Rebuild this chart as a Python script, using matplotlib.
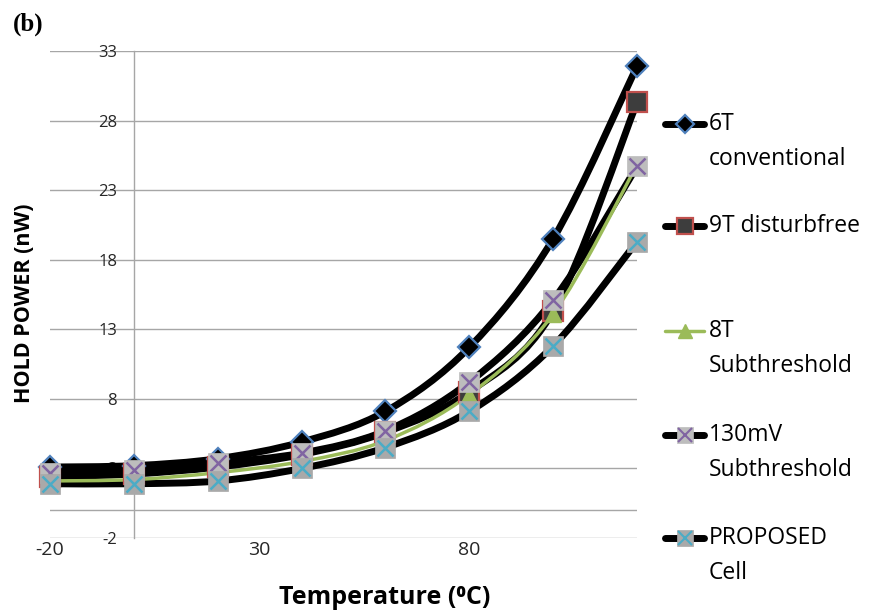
import matplotlib
matplotlib.use("Agg")
import matplotlib.pyplot as plt
from matplotlib.path import Path
from matplotlib.patches import PathPatch
from matplotlib.lines import Line2D

plt.rcParams["font.family"] = ["Open Sans", "DejaVu Sans"]
plt.rcParams["axes.unicode_minus"] = False

# ---------------------------------------------------------------------------
# Data
# ---------------------------------------------------------------------------

temps = [-20, 0, 20, 40, 60, 80, 100, 120]
power_6t = [3.1, 3.2, 3.7, 4.9, 7.1, 11.7, 19.5, 31.9]
power_9t = [2.4, 2.6, 3.1, 4.0, 5.6, 8.5, 14.3, 29.3]
power_8t = [2.1, 2.2, 2.7, 3.5, 5.0, 8.3, 14.1, 24.8]
power_130mv = [2.7, 2.9, 3.4, 4.1, 5.7, 9.2, 15.1, 24.7]
power_proposed = [1.9, 1.9, 2.1, 3.0, 4.5, 7.1, 11.8, 19.3]

series_labels = ["6T\nconventional", "9T disturbfree", "8T\nSubthreshold",
                 "130mV\nSubthreshold", "PROPOSED\nCell"]
x_ticks = [-20, 30, 80]
y_ticks = [-2, 3, 8, 13, 18, 23, 28, 33]

# line / marker styles per series (same order as labels)
styles = [
    dict(lc="black", lw=5, marker="D", ms=11, mfc="black", mec="#4f81bd", mew=1.6, over=None),
    dict(lc="black", lw=5, marker="s", ms=14, mfc="#3d3d3d", mec="#c0504d", mew=1.6, over=None),
    dict(lc="#9bbb59", lw=2.5, marker="^", ms=12, mfc="#9bbb59", mec="#9bbb59", mew=1, over=None),
    dict(lc="black", lw=5, marker="s", ms=14, mfc="#bdbdbd", mec="#bdbdbd", mew=0.5, over=("x", "#8064a2")),
    dict(lc="black", lw=5, marker="s", ms=14, mfc="#a9a9a9", mec="#a9a9a9", mew=0.5, over=("x", "#4bacc6")),
]

GRID = "#a6a6a6"
W, H = 893, 616


def smooth_path(xs, ys):
    """Excel-like smoothed line: cubic Bezier segments with Catmull-Rom handles."""
    pts = list(zip(xs, ys))
    n = len(pts)
    verts = [pts[0]]
    codes = [Path.MOVETO]
    for i in range(n - 1):
        p0 = pts[max(i - 1, 0)]
        p1 = pts[i]
        p2 = pts[i + 1]
        p3 = pts[min(i + 2, n - 1)]
        c1 = (p1[0] + (p2[0] - p0[0]) / 6, p1[1] + (p2[1] - p0[1]) / 6)
        c2 = (p2[0] - (p3[0] - p1[0]) / 6, p2[1] - (p3[1] - p1[1]) / 6)
        verts += [c1, c2, p2]
        codes += [Path.CURVE4] * 3
    return Path(verts, codes)


def fx(px):
    return px / W


def fy(py):
    return 1 - py / H


fig = plt.figure(figsize=(W / 100, H / 100), dpi=100)
ax = fig.add_axes([fx(50), fy(538), 587 / W, 487 / H])

all_series = [power_6t, power_9t, power_8t, power_130mv, power_proposed]

for vals, st in zip(all_series, styles):
    patch = PathPatch(smooth_path(temps, vals), fill=False, edgecolor=st["lc"],
                      lw=st["lw"], capstyle="round", joinstyle="round",
                      zorder=3 if st["lc"] != "black" else 2, clip_on=False)
    ax.add_patch(patch)

for k, (vals, st) in enumerate(zip(all_series, styles)):
    ax.plot(temps, vals, linestyle="none", marker=st["marker"], ms=st["ms"],
            mfc=st["mfc"], mec=st["mec"], mew=st["mew"], zorder=5 + k, clip_on=False)
    if st["over"]:
        ax.plot(temps, vals, linestyle="none", marker=st["over"][0], ms=st["ms"] - 2,
                color=st["over"][1], mew=1.8, zorder=5.5 + k, clip_on=False)

ax.set_xlim(-20, 120)
ax.set_ylim(-2, 33)
ax.set_xticks(x_ticks)
ax.set_yticks(y_ticks)
for side in ["top", "right", "bottom"]:
    ax.spines[side].set_visible(False)
ax.spines["left"].set_position(("data", 0))
ax.spines["left"].set_color(GRID)
ax.spines["left"].set_linewidth(1)
ax.yaxis.grid(True, color=GRID, lw=1)
ax.axhline(0, color=GRID, lw=1, zorder=1)
ax.set_axisbelow(True)
ax.tick_params(axis="both", length=0, colors="#262626")
ax.tick_params(axis="x", labelsize=14, pad=2)
ax.tick_params(axis="y", labelsize=12, pad=12)

# axis titles
fig.text(fx(385), fy(598), "Temperature (\u2070C)", fontsize=18, fontweight="bold",
         ha="center", va="center")
fig.text(fx(25), fy(303), "HOLD POWER (nW)", fontsize=15.5, fontweight="bold",
         rotation=90, ha="center", va="center")
fig.text(fx(13), fy(24), "(b)", family="Liberation Serif", fontsize=18,
         fontweight="bold", ha="left", va="center")

# legend drawn by hand so the key sits on the first text line, as in Excel
legend_y = [124, 226, 331, 435, 538]
for label, st, y in zip(series_labels, styles, legend_y):
    fig.add_artist(Line2D([fx(665), fx(704)], [fy(y), fy(y)], color=st["lc"],
                          lw=st["lw"], solid_capstyle="round"))
    fig.add_artist(Line2D([fx(685)], [fy(y)], linestyle="none", marker=st["marker"],
                          ms=st["ms"] * 0.85, mfc=st["mfc"], mec=st["mec"], mew=st["mew"]))
    if st["over"]:
        fig.add_artist(Line2D([fx(685)], [fy(y)], linestyle="none", marker=st["over"][0],
                              ms=st["ms"] * 0.72, color=st["over"][1], mew=1.5))
    for j, line in enumerate(label.split("\n")):
        fig.text(fx(709), fy(y + 35 * j), line, fontsize=16.5, ha="left", va="center",
                 color="black")

fig.savefig("out.png", dpi=100)
